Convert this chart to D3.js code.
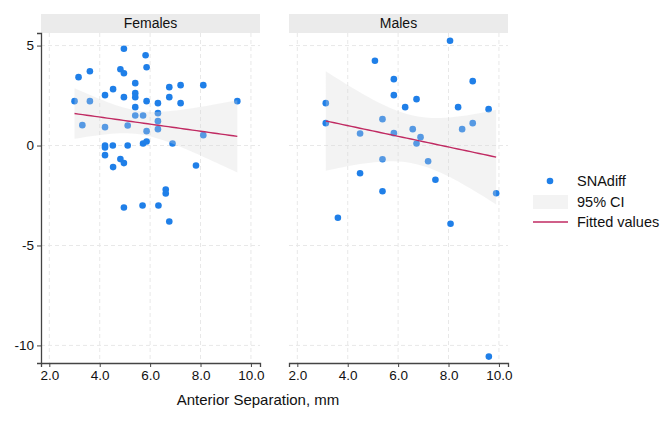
<!DOCTYPE html>
<html>
<head>
<meta charset="utf-8">
<script src="https://cdn.jsdelivr.net/npm/d3@7"></script>
<style>
  body { margin: 0; background: #fff; }
  svg { font-family: "Liberation Sans", Arial, sans-serif; }
</style>
</head>
<body>
<div id="chart"></div>
<script>
// values
var femaleX = [3.0, 3.16, 3.61, 3.61, 3.31, 4.21, 4.53, 4.21, 4.21, 4.21, 4.52, 4.21, 4.53, 4.82, 4.96,
  4.96, 4.82, 4.96, 4.96, 5.11, 5.11, 5.41, 5.41, 5.41, 5.41, 5.41, 5.72, 5.72, 5.86, 5.82,
  5.86, 5.86, 5.86, 6.31, 6.31, 6.31, 6.31, 6.76, 6.76, 6.89, 7.21, 7.21, 7.82, 8.11, 8.11,
  9.46, 6.62, 6.62, 4.96, 5.7, 6.33, 6.76];
var femaleY = [2.22, 3.42, 3.72, 2.22, 1.02, 2.52, 2.82, 0.92, 0.0, -0.1, 0.0, -0.48, -1.08, -0.68, -0.88,
  4.84, 3.82, 3.62, 2.42, 1.0, 0.0, 3.12, 2.62, 2.42, 1.92, 1.5, 1.5, 0.1, 0.2, 4.52,
  3.92, 2.22, 0.72, 2.12, 1.62, 1.22, 0.82, 2.92, 2.42, 0.1, 3.02, 2.12, -1.0, 3.02, 0.52,
  2.22, -2.2, -2.4, -3.1, -3.0, -3.0, -3.8];
var maleX = [3.13, 3.13, 4.49, 5.38, 5.08, 5.83, 5.83, 5.83, 6.28, 6.73, 6.58, 6.89, 6.73, 5.38,
  4.49, 7.19, 7.48, 5.38, 8.06, 8.96, 8.38, 9.59, 8.54, 8.96, 9.89, 3.61, 8.08, 9.6];
var maleY = [2.12, 1.12, 0.6, 1.32, 4.24, 3.32, 2.52, 0.62, 1.92, 2.32, 0.82, 0.42, 0.1, -0.69,
  -1.39, -0.79, -1.71, -2.29, 5.24, 3.22, 1.92, 1.82, 0.82, 1.12, -2.39, -3.61, -3.91, -10.56];

var panelNames = ["Females", "Males"];
var xTicks = [2, 4, 6, 8, 10];
var yTicks = [5, 0, -5, -10];
var legendLabels = ["SNAdiff", "95% CI", "Fitted values"];

var width = 670, height = 423;
var dotColor = "#1f7fe8", fitColor = "#c02a62", ciColor = "#d8d8d8", ciOpacity = 0.3;

var svg = d3.select("#chart").append("svg")
  .attr("width", width)
  .attr("height", height);

var plotTop = 33, plotBottom = 363, stripH = 19;
var panelLeft = [41, 289], panelW = 219;

var y = d3.scaleLinear().domain([5.63, -10.88]).range([plotTop, plotBottom]);

// linear fit + 95% CI of the mean, like Stata's lfitci
function fitci(xs, ys, tval) {
  var n = xs.length;
  var mx = d3.mean(xs), my = d3.mean(ys);
  var sxx = d3.sum(xs, function(v) { return (v - mx) * (v - mx); });
  var sxy = d3.sum(xs, function(v, i) { return (v - mx) * (ys[i] - my); });
  var b = sxy / sxx, a = my - b * mx;
  var sse = d3.sum(xs, function(v, i) { var r = ys[i] - a - b * v; return r * r; });
  var s = Math.sqrt(sse / (n - 2));
  var lo = d3.min(xs), hi = d3.max(xs);
  var pts = d3.range(0, 41).map(function(k) {
    var xv = lo + (hi - lo) * k / 40;
    var yh = a + b * xv;
    var se = s * Math.sqrt(1 / n + (xv - mx) * (xv - mx) / sxx);
    return {x: xv, y: yh, lo: yh - tval * se, hi: yh + tval * se};
  });
  return pts;
}

var panels = [
  {name: panelNames[0], xs: femaleX, ys: femaleY, t: 2.009},
  {name: panelNames[1], xs: maleX, ys: maleY, t: 2.056}
];

panels.forEach(function(p, i) {
  var left = panelLeft[i];
  var x = d3.scaleLinear().domain([1.67, 10.36]).range([left, left + panelW]);
  var g = svg.append("g");

  // strip
  g.append("rect")
    .attr("x", left).attr("y", plotTop - stripH)
    .attr("width", panelW).attr("height", stripH)
    .attr("fill", "#ebebeb");
  g.append("text")
    .attr("x", left + panelW / 2).attr("y", plotTop - 5)
    .attr("text-anchor", "middle")
    .style("font-size", "14px")
    .attr("fill", "#111")
    .text(p.name);

  // grid
  g.selectAll(".gx").data(xTicks).enter().append("line")
    .attr("x1", function(d) { return x(d); }).attr("x2", function(d) { return x(d); })
    .attr("y1", plotTop).attr("y2", plotBottom)
    .attr("stroke", "#e8e8e8").attr("stroke-dasharray", "4,3");
  g.selectAll(".gy").data(yTicks).enter().append("line")
    .attr("x1", left).attr("x2", left + panelW)
    .attr("y1", function(d) { return y(d); }).attr("y2", function(d) { return y(d); })
    .attr("stroke", "#e8e8e8").attr("stroke-dasharray", "4,3");

  var fit = fitci(p.xs, p.ys, p.t);

  // points
  g.selectAll(".dot").data(p.xs).enter().append("circle")
    .attr("cx", function(d) { return x(d); })
    .attr("cy", function(d, k) { return y(p.ys[k]); })
    .attr("r", 3.3)
    .attr("fill", dotColor);

  // CI band, translucent over the points
  g.append("path")
    .datum(fit)
    .attr("d", d3.area()
      .x(function(d) { return x(d.x); })
      .y0(function(d) { return y(d.lo); })
      .y1(function(d) { return y(d.hi); }))
    .attr("fill", ciColor)
    .attr("fill-opacity", ciOpacity);

  // fitted line
  g.append("path")
    .datum(fit)
    .attr("d", d3.line()
      .x(function(d) { return x(d.x); })
      .y(function(d) { return y(d.y); }))
    .attr("fill", "none")
    .attr("stroke", fitColor)
    .attr("stroke-width", 1.4);

  // x axis
  var xAxis = g.append("g")
    .attr("transform", "translate(0," + plotBottom + ")")
    .call(d3.axisBottom(x).tickValues(xTicks).tickFormat(d3.format(".1f")).tickSize(4).tickPadding(3));
  xAxis.select(".domain").attr("stroke", "#444").attr("stroke-width", 1.3);
  xAxis.selectAll(".tick line").attr("stroke", "#444");
  xAxis.selectAll("text").style("font-size", "13.5px").attr("fill", "#111");

  if (i === 0) {
    var yAxis = g.append("g")
      .attr("transform", "translate(" + left + ",0)")
      .call(d3.axisLeft(y).tickValues(yTicks).tickFormat(function(d) { return String(d); })
        .tickSize(4).tickPadding(3));
    yAxis.select(".domain").attr("stroke", "#444").attr("stroke-width", 1.3);
    yAxis.selectAll(".tick line").attr("stroke", "#444");
    yAxis.selectAll("text").style("font-size", "13.5px").attr("fill", "#111");
  }
});

// x axis title
svg.append("text")
  .attr("x", 258).attr("y", 405)
  .attr("text-anchor", "middle")
  .style("font-size", "15px")
  .attr("fill", "#111")
  .text("Anterior Separation, mm");

// legend
var lg = svg.append("g");
var rowY = [181, 202, 222];
lg.append("circle").attr("cx", 550).attr("cy", rowY[0]).attr("r", 3.3).attr("fill", dotColor);
lg.append("rect").attr("x", 533).attr("y", rowY[1] - 7).attr("width", 35).attr("height", 14)
  .attr("fill", ciColor).attr("fill-opacity", ciOpacity);
lg.append("line").attr("x1", 533).attr("x2", 568).attr("y1", rowY[2]).attr("y2", rowY[2])
  .attr("stroke", fitColor).attr("stroke-width", 1.4);
lg.selectAll(".lt").data(legendLabels).enter().append("text")
  .attr("x", 577)
  .attr("y", function(d, i) { return rowY[i] + 5; })
  .style("font-size", "14.5px")
  .attr("fill", "#111")
  .text(function(d) { return d; });
</script>
</body>
</html>
